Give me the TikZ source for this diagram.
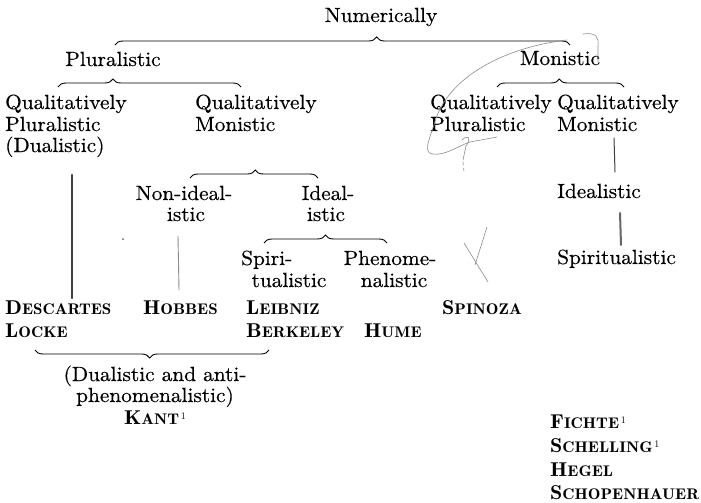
\documentclass[tikz,border=0pt]{standalone}
\usepackage{fontspec}
\newfontfamily\demifont{lmromandemi10-regular}[Extension=.otf,FakeStretch=1.1]
\newfontfamily\supfont{lmroman10-regular}[Extension=.otf]
\setmainfont{lmroman10-regular}[Extension=.otf,FakeStretch=1.04,FakeBold=0.4]
\newcommand\scn[2]{{\demifont\fontsize{20}{22}\selectfont #1\fontsize{15.4}{22}\selectfont #2}}
\newcommand\supone{\,\raisebox{0.5em}{\supfont\fontsize{10}{10}\selectfont 1}}
\usetikzlibrary{decorations.pathreplacing}
\begin{document}
\begin{tikzpicture}[x=1pt,y=-1pt,
  lab/.style={inner sep=0pt, font=\fontsize{20.5}{22}\selectfont},
  lw/.style={lab, anchor=base west},
  lc/.style={lab, anchor=base},
  nm/.style={inner sep=0pt, anchor=base west},
  br/.style={decorate, decoration={brace, amplitude=8pt, aspect=#1}, line width=0.9pt},
  pencil/.style={draw=black!45, line width=0.6pt, line cap=round},
  ink/.style={draw=black!75, line cap=round}]
\useasboundingbox[fill=white] (0,0) rectangle (701,503);

% headings
\node[lc] (num) at (381,22) {Numerically};
\node[lc] (plu) at (113,66) {Pluralistic};
\node[lc] (mon) at (560,65) {Monistic};

\node[lw] (qpd1) at (5,109) {Qualitatively};
\node[lw] (qpd2) at (5,131) {Pluralistic};
\node[lw] (qpd3) at (5,152) {(Dualistic)};
\node[lw] (qm1) at (195,109) {Qualitatively};
\node[lw] (qm2) at (195,131) {Monistic};
\node[lw] (rqp1) at (430,109) {Qualitatively};
\node[lw] (rqp2) at (430,131) {Pluralistic};
\node[lw] (rqm1) at (557,109) {Qualitatively};
\node[lw] (rqm2) at (557,131) {Monistic};

\node[lc] (ni1) at (184,200) {Non-ideal-};
\node[lc] (ni2) at (186,221) {istic};
\node[lc] (id1) at (328,200) {Ideal-};
\node[lc] (id2) at (326,221) {istic};
\node[lw] (ridl) at (557,198) {Idealistic};

\node[lw] (sp1) at (241,265) {Spiri-};
\node[lc] (sp2) at (289,287) {tualistic};
\node[lc] (ph1) at (390,265) {Phenome-};
\node[lc] (ph2) at (394,287) {nalistic};
\node[lw] (rsp) at (557,264) {Spiritualistic};

% names
\node[nm] (desc) at (5,314) {\scn{D}{ESCARTES}};
\node[nm] (locke) at (5,337) {\scn{L}{OCKE}};
\node[nm] (hobbes) at (143,314) {\scn{H}{OBBES}};
\node[nm] (leib) at (246,314) {\scn{L}{EIBNIZ}};
\node[nm] (berk) at (246,337) {\scn{B}{ERKELEY}};
\node[nm] (hume) at (364,337) {\scn{H}{UME}};
\node[nm] (spin) at (442,314) {\scn{S}{PINOZA}};

\node[lc] (da1) at (155,381) {(Dualistic and anti-};
\node[lc] (da2) at (155,402) {phenomenalistic)};
\node[nm, anchor=base] (kant) at (155,424) {\scn{K}{ANT}\supone};

\node[nm] (fich) at (550,428) {\scn{F}{ICHTE}\supone};
\node[nm] (schel) at (550,452) {\scn{S}{CHELLING}\supone};
\node[nm] (hegel) at (550,476) {\scn{H}{EGEL}};
\node[nm] (schop) at (550,499) {\scn{S}{CHOPENHAUER}};

% brace end points
\coordinate (tA) at (115,45); \coordinate (tB) at (570,45);
\coordinate (pA) at (58,87);  \coordinate (pB) at (241,87);
\coordinate (mA) at (497,87); \coordinate (mB) at (624,87);
\coordinate (qA) at (190,178); \coordinate (qB) at (318,178);
\coordinate (iA) at (264,243); \coordinate (iB) at (387,243);
\coordinate (bA) at (35,350); \coordinate (bB) at (269,350);

\draw[br=0.575] (tA) -- (tB);
\draw[br=0.30] (pA) -- (pB);
\draw[br=0.49] (mA) -- (mB);
\draw[br=0.51] (qA) -- (qB);
\draw[br=0.50] (iA) -- (iB);
\draw[br=0.51] (bB) -- (bA);

% hand-drawn marks
\draw[ink, line width=2.6pt] (72,175) -- (72,298);
\draw[pencil, line width=0.9pt] (178,236) -- (179,290);
\draw[ink, line width=1pt] (614,138) -- (615,172);
\draw[ink, draw=black!60, line width=2pt] (620,213) -- (621,245);
\draw[pencil] (567,40) .. controls (500,48) and (445,80) .. (434,125)
  .. controls (428,142) and (424,152) .. (432,154)
  .. controls (445,156) and (458,146) .. (470,142) -- (497,137);
\draw[pencil] (462,140) .. controls (468,134) and (472,138) .. (466,146) -- (463,160);
\draw[pencil, dashed] (463,162) -- (464,172);
\draw[pencil] (583,34) .. controls (597,32) and (599,38) .. (598,46) -- (598,62);
\draw[pencil] (464,243) -- (488,282);
\draw[pencil] (487,227) -- (475,265);
\fill[black!60] (123,239) circle (1pt);
\end{tikzpicture}
\end{document}
